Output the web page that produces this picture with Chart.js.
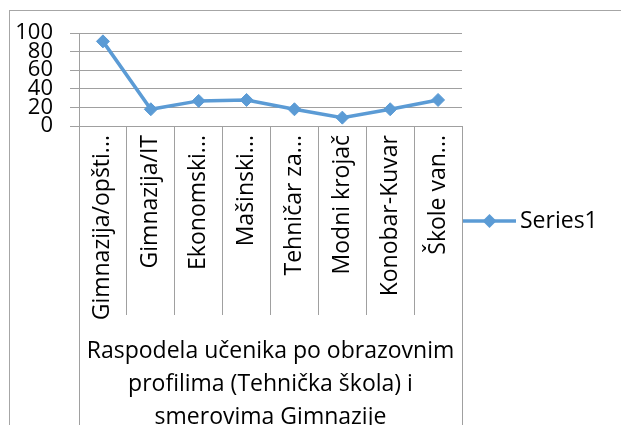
<!DOCTYPE html>
<html><head><meta charset="utf-8">
<script src="https://cdn.jsdelivr.net/npm/chart.js@4"></script>
<style>
html,body{margin:0;padding:0;background:#fff;overflow:hidden;}
#wrap{position:relative;width:621px;height:425px;overflow:hidden;}
#frame{position:absolute;left:9px;top:10px;width:700px;height:500px;border:1px solid #a6a6a6;box-sizing:border-box;}
canvas{position:absolute;left:0;top:0;}
</style></head><body>
<div id="wrap"><div id="frame"></div><canvas id="c" width="621" height="425"></canvas></div>
<script>
const categories = ['Gimnazija/opšti...', 'Gimnazija/IT', 'Ekonomski...', 'Mašinski...', 'Tehničar za...', 'Modni krojač', 'Konobar-Kuvar', 'Škole van...'];
const series1 = [91, 18, 27, 28, 18, 9, 18, 28];
const seriesName = 'Series1';
const yTicks = [0, 20, 40, 60, 80, 100];
const groupLabel = ['Raspodela učenika po obrazovnim', 'profilima (Tehnička škola) i', 'smerovima Gimnazije'];

const GRID = '#a0a0a0';
const BLUE = '#5B9BD5';
const FONT = '"Open Sans", "DejaVu Sans", sans-serif';

const extras = {
  id: 'extras',
  afterDraw(chart) {
    const {ctx, chartArea: a} = chart;
    const h = chart.height;
    ctx.save();
    // continuation of outer category box
    ctx.strokeStyle = GRID; ctx.lineWidth = 1;
    ctx.beginPath();
    [a.left, a.right].forEach(x => { const px = Math.round(x) + 0.5; ctx.moveTo(px, a.bottom); ctx.lineTo(px, h); });
    ctx.stroke();
    // group label
    ctx.fillStyle = '#000';
    ctx.font = '23px ' + FONT;
    ctx.textAlign = 'center'; ctx.textBaseline = 'alphabetic';
    const cx = (a.left + a.right) / 2;
    groupLabel.forEach((t, i) => ctx.fillText(t, cx, a.bottom + 232 + i * 33));
    // legend
    const ly = a.bottom + 95;
    const lx0 = a.right + 1, lx1 = a.right + 54;
    ctx.strokeStyle = BLUE; ctx.lineWidth = 3.5;
    ctx.beginPath(); ctx.moveTo(lx0, ly); ctx.lineTo(lx1, ly); ctx.stroke();
    const mx = (lx0 + lx1) / 2, r = 7;
    ctx.fillStyle = BLUE;
    ctx.beginPath(); ctx.moveTo(mx - r, ly); ctx.lineTo(mx, ly - r); ctx.lineTo(mx + r, ly); ctx.lineTo(mx, ly + r); ctx.closePath(); ctx.fill();
    ctx.fillStyle = '#000';
    ctx.font = '23px ' + FONT;
    ctx.textAlign = 'left'; ctx.textBaseline = 'middle';
    ctx.fillText(chart.data.datasets[0].label, lx1 + 4, ly);
    ctx.restore();
  }
};

new Chart(document.getElementById('c'), {
  type: 'line',
  data: {
    labels: categories,
    datasets: [{
      label: seriesName,
      data: series1,
      borderColor: BLUE,
      backgroundColor: BLUE,
      borderWidth: 3.5,
      pointStyle: 'rectRot',
      pointRadius: 6.5,
      pointBackgroundColor: BLUE,
      pointBorderColor: BLUE,
      pointBorderWidth: 1,
      tension: 0,
      clip: false
    }]
  },
  options: {
    responsive: false,
    animation: false,
    devicePixelRatio: 1,
    layout: {padding: {top: 33, right: 159, bottom: 0, left: 0}},
    plugins: {legend: {display: false}, tooltip: {enabled: false}},
    scales: {
      x: {
        type: 'category',
        offset: true,
        grid: {offset: true, drawOnChartArea: false, drawTicks: true, tickLength: 189, color: GRID},
        border: {color: GRID},
        ticks: {autoSkip: false, maxRotation: 90, minRotation: 90, padding: -180, color: '#000', font: {family: FONT, size: 23}},
        afterFit(s) { s.height = 299; }
      },
      y: {
        min: 0, max: 100,
        afterBuildTicks(s) { s.ticks = yTicks.map(v => ({value: v})); },
        grid: {color: GRID, tickLength: 9, drawTicks: true},
        border: {color: GRID},
        ticks: {autoSkip: false, padding: 17, color: '#000', font: {family: FONT, size: 22, lineHeight: 1}},
        afterFit(s) { s.width = 79; }
      }
    }
  },
  plugins: [extras]
});
</script>
</body></html>
